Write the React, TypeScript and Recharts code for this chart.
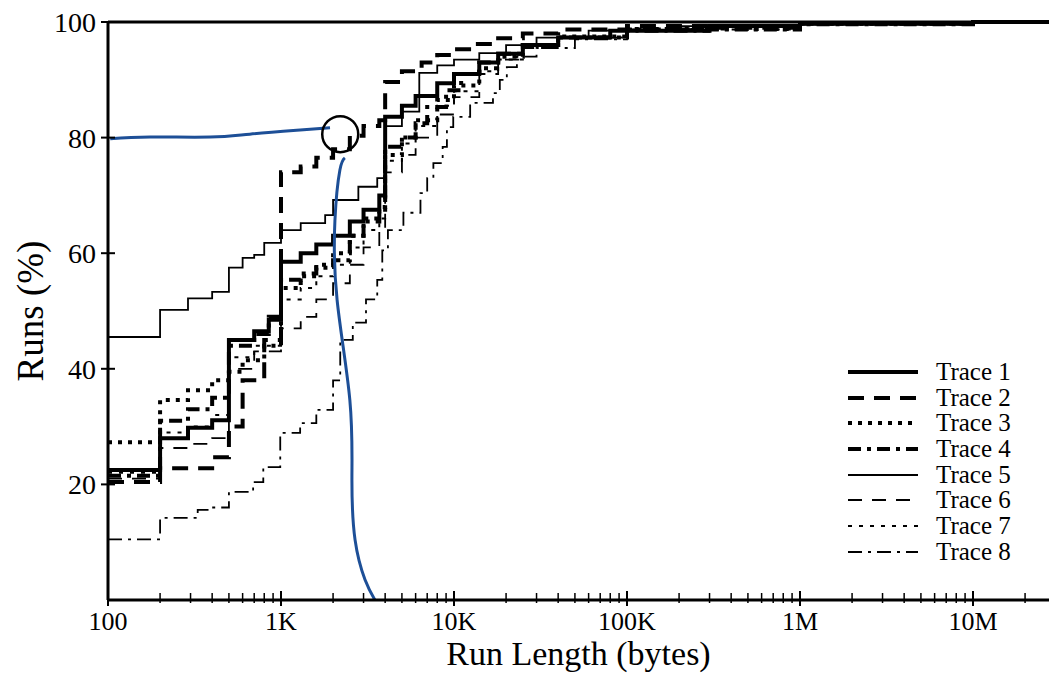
import React from 'react';
import {
  LineChart,
  Line,
  XAxis,
  YAxis,
  ReferenceLine,
  ReferenceDot,
} from 'recharts';

// cumulative % of runs vs run length (bytes)
const TRACE_1: [number, number][] = [
  [100, 22.5], [200, 28], [290, 29.8], [400, 31.1], [500, 45], [700, 46.5], [850, 48.5],
  [1000, 58.5], [1300, 60], [1600, 61.5], [2000, 63], [2500, 65.5], [3000, 67.5], [3700, 70],
  [4000, 83.6], [5000, 85.5], [6000, 87.2], [8000, 89.4], [10000, 91], [14000, 93],
  [18000, 94.5], [25000, 96], [40000, 97.3], [80000, 98.5], [300000, 99.3], [1000000, 99.7],
  [10000000, 100],
];
const TRACE_2: [number, number][] = [
  [100, 20.4], [200, 22.8], [400, 24.7], [500, 30], [600, 38], [800, 45], [1000, 74],
  [1300, 75], [1600, 76.5], [2000, 78], [2500, 80.3], [3000, 82], [3700, 83], [4000, 89.6],
  [5000, 91.5], [6500, 93], [8000, 94.3], [10000, 95.3], [13000, 96.2], [18000, 97.2],
  [25000, 98], [40000, 98.7], [100000, 99.3], [1000000, 99.8], [10000000, 100],
];
const TRACE_3: [number, number][] = [
  [100, 27.3], [200, 34.6], [290, 36.3], [400, 38], [500, 39.5], [600, 41.5], [800, 44],
  [1000, 54], [1300, 56], [1600, 57.5], [2000, 60], [2500, 63], [3000, 66], [3700, 68],
  [4000, 77], [5000, 80], [6000, 83], [8000, 86.5], [10000, 89], [14000, 92], [18000, 94],
  [25000, 96], [40000, 97.5], [100000, 98.8], [1000000, 99.7], [10000000, 100],
];
const TRACE_4: [number, number][] = [
  [100, 21.5], [200, 31], [290, 33], [400, 35], [500, 44], [700, 46], [850, 49],
  [1000, 55.4], [1300, 56.5], [1600, 58], [2000, 58.8], [2500, 63], [3000, 65.5], [3700, 67.5],
  [4000, 78.4], [5000, 80], [6000, 82.5], [7000, 85.3], [9000, 88.2], [11000, 91],
  [14000, 93], [18000, 94.5], [25000, 96], [40000, 97.3], [100000, 98.7], [1000000, 99.6],
  [10000000, 100],
];
const TRACE_5: [number, number][] = [
  [100, 45.5], [200, 50.2], [290, 52.2], [400, 53.3], [500, 57.5], [600, 59.2], [700, 59.7],
  [800, 61.8], [1000, 64], [1300, 65.2], [1800, 66.6], [2000, 69.2], [2800, 71.5],
  [3600, 73], [4000, 82], [5000, 84.5], [6300, 91.2], [8000, 92.5], [10000, 93.5],
  [14000, 94.6], [20000, 96], [30000, 97.3], [60000, 98.5], [200000, 99.3], [1000000, 99.8],
  [10000000, 100],
];
const TRACE_6: [number, number][] = [
  [100, 21], [200, 26.3], [290, 27], [400, 28], [500, 40], [700, 43], [1000, 47],
  [1300, 49], [1600, 52], [2000, 54.8], [2500, 58], [3000, 61], [3700, 64], [4000, 74],
  [5000, 77], [6000, 80], [8000, 84], [10000, 87], [14000, 91], [18000, 93.5], [25000, 95.5],
  [40000, 97.3], [100000, 98.8], [1000000, 99.7], [10000000, 100],
];
const TRACE_7: [number, number][] = [
  [100, 22], [200, 29], [290, 30], [400, 32], [500, 42], [700, 44], [1000, 52],
  [1300, 54], [1600, 56], [2000, 58], [2500, 61], [3000, 64], [3700, 66], [4000, 76],
  [5000, 79], [6000, 82], [8000, 85.5], [10000, 88], [14000, 91.5], [18000, 93.5],
  [25000, 95.5], [40000, 97.3], [100000, 98.7], [1000000, 99.6], [10000000, 100],
];
const TRACE_8: [number, number][] = [
  [100, 10.5], [200, 14.2], [330, 15.6], [390, 16], [500, 18.7], [690, 20.4], [790, 23],
  [990, 28.9], [1290, 30.6], [1600, 32.9], [2000, 38], [2200, 45], [2600, 48], [3100, 52],
  [3600, 55.4], [3850, 60.5], [4150, 64], [5100, 67], [6400, 70.4], [7000, 73], [7600, 75.6],
  [8600, 78.4], [9100, 81.8], [9900, 83.6], [12400, 86], [16800, 87.7], [18400, 90],
  [20200, 92.2], [23100, 94], [30000, 95.5], [50000, 97], [100000, 98.3], [300000, 99.2],
  [1000000, 99.6], [10000000, 100],
];

// hand-drawn blue annotation (data coordinates)
const NOTE_H: [number, number][] = [
  [103, 79.8], [175, 80.1], [390, 80.1], [660, 80.6], [1290, 81.3], [1920, 81.7],
];
const NOTE_V: [number, number][] = [
  [2340, 76.5], [2190, 74.4], [2050, 65.7], [2110, 51.9], [2500, 34.6], [2570, 20.8],
  [2680, 10.4], [3060, 3.5], [3490, 0],
];
const CIRCLE_AT: [number, number] = [2200, 80.6];

const X_MAJOR = [100, 1000, 10000, 100000, 1000000, 10000000];
const X_MINOR = [2, 3, 4, 5, 6, 7, 8, 9];
const Y_TICKS = [20, 40, 60, 80, 100];
const X_MAX = 27500000;

const TRACES = [
  { name: 'Trace 1', data: TRACE_1, width: 4, dash: undefined },
  { name: 'Trace 2', data: TRACE_2, width: 4, dash: '16 10' },
  { name: 'Trace 3', data: TRACE_3, width: 4, dash: '4 6' },
  { name: 'Trace 4', data: TRACE_4, width: 4, dash: '13 6 4 6' },
  { name: 'Trace 5', data: TRACE_5, width: 1.8, dash: undefined },
  { name: 'Trace 6', data: TRACE_6, width: 1.8, dash: '14 10' },
  { name: 'Trace 7', data: TRACE_7, width: 2, dash: '4 7' },
  { name: 'Trace 8', data: TRACE_8, width: 1.8, dash: '14 6 3 6' },
];

const FONT = '"Liberation Serif", "Times New Roman", serif';
const BLUE = '#1d4f97';

const pts = (pairs: [number, number][], extend = false) => {
  const out = pairs.map(([x, y]) => ({ x, y }));
  if (extend) out.push({ x: X_MAX, y: pairs[pairs.length - 1][1] });
  return out;
};

const fmtBytes = (v: number) =>
  v >= 1e6 ? `${v / 1e6}M` : v >= 1e3 ? `${v / 1e3}K` : `${v}`;

const xTicks: number[] = [];
X_MAJOR.forEach((m) => {
  xTicks.push(m);
  X_MINOR.forEach((k) => {
    if (m * k <= X_MAX) xTicks.push(m * k);
  });
});

const XTick = ({ x, y, payload }: any) => {
  const v = payload.value;
  const major = X_MAJOR.includes(v);
  if (!major) {
    return <line x1={x} x2={x} y1={y - 7} y2={y + 3} stroke="#000" strokeWidth={1.5} />;
  }
  return (
    <g>
      <line x1={x} x2={x} y1={y - 9} y2={y + 6} stroke="#000" strokeWidth={2} />
      <text x={x} y={y + 30} textAnchor="middle" fontFamily={FONT} fontSize={26} fill="#000">
        {fmtBytes(v)}
      </text>
    </g>
  );
};

const YTick = ({ x, y, payload }: any) => (
  <g>
    <line x1={x - 7} x2={x + 7} y1={y} y2={y} stroke="#000" strokeWidth={2} />
    <text x={x - 12} y={y + 10} textAnchor="end" fontFamily={FONT} fontSize={28} fill="#000">
      {payload.value}
    </text>
  </g>
);

const TraceLegend = () => (
  <div
    style={{
      position: 'absolute',
      left: 840,
      top: 359,
      fontFamily: FONT,
      fontSize: 25,
      lineHeight: '25.7px',
      color: '#000',
    }}
  >
    {TRACES.map((t) => (
      <div key={t.name} style={{ display: 'flex', alignItems: 'center', height: 25.7 }}>
        <svg width={90} height={12} style={{ marginRight: 6 }}>
          <line x1={8} x2={78} y1={6} y2={6} stroke="#000" strokeWidth={t.width} strokeDasharray={t.dash} />
        </svg>
        <span>{t.name}</span>
      </div>
    ))}
  </div>
);

export default function App() {
  return (
    <div style={{ position: 'absolute', left: 0, top: 0, width: 1049, height: 673, background: '#fff' }}>
      <LineChart width={1049} height={673} margin={{ top: 22, right: 0, bottom: 0, left: 0 }}>
        <XAxis
          dataKey="x"
          type="number"
          scale="log"
          domain={[100, X_MAX]}
          allowDataOverflow
          ticks={xTicks}
          interval={0}
          height={73}
          tickSize={0}
          tickMargin={0}
          tickLine={false}
          tick={<XTick />}
          axisLine={{ stroke: '#000', strokeWidth: 3 }}
          label={{
            value: 'Run Length (bytes)',
            position: 'insideBottom',
            offset: 8,
            style: { fontFamily: FONT, fontSize: 34, fill: '#000' },
          }}
        />
        <YAxis
          type="number"
          domain={[0, 100]}
          ticks={Y_TICKS}
          interval={0}
          width={108}
          tickSize={0}
          tickMargin={0}
          tickLine={false}
          tick={<YTick />}
          axisLine={{ stroke: '#000', strokeWidth: 3 }}
          label={{
            value: 'Runs (%)',
            angle: -90,
            position: 'insideLeft',
            offset: 30,
            style: { fontFamily: FONT, fontSize: 37, fill: '#000', textAnchor: 'middle' },
          }}
        />
        <ReferenceLine y={100} stroke="#000" strokeWidth={3} />
        {TRACES.map((t) => (
          <Line
            key={t.name}
            name={t.name}
            data={pts(t.data, true)}
            dataKey="y"
            type="stepAfter"
            stroke="#000"
            strokeWidth={t.width}
            strokeDasharray={t.dash}
            dot={false}
            isAnimationActive={false}
          />
        ))}
        <Line
          data={pts(NOTE_H)}
          dataKey="y"
          type="natural"
          stroke={BLUE}
          strokeWidth={3}
          dot={false}
          legendType="none"
          isAnimationActive={false}
        />
        <Line
          data={pts(NOTE_V)}
          dataKey="y"
          type="natural"
          stroke={BLUE}
          strokeWidth={3}
          dot={false}
          legendType="none"
          isAnimationActive={false}
        />
        <ReferenceDot
          x={CIRCLE_AT[0]}
          y={CIRCLE_AT[1]}
          r={18}
          fill="none"
          stroke="#000"
          strokeWidth={2.5}
        />
      </LineChart>
      <TraceLegend />
    </div>
  );
}
